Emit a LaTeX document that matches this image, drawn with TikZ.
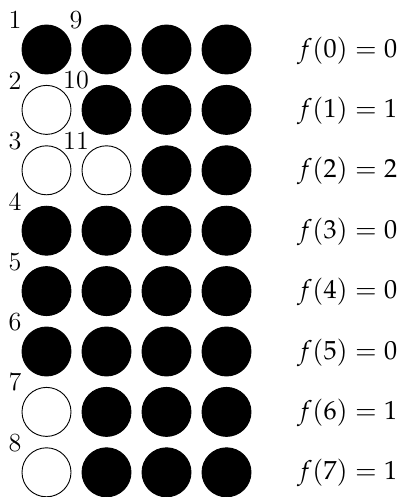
\documentclass[tikz,border=0pt]{standalone}
\usepackage{mathpazo}
\begin{document}
\begin{tikzpicture}[x=0.44pt,y=-0.44pt,
  dot/.style={circle,draw=black,line width=0.4pt,minimum size=49*0.44pt,inner sep=0pt},
  on/.style={dot,fill=black},
  off/.style={dot,fill=white},
  num/.style={inner sep=0pt,anchor=center,font=\fontsize{11.5}{13}\selectfont},
  fval/.style={inner sep=0pt,anchor=west,font=\fontsize{11.5}{13}\selectfont}]
\useasboundingbox (0,0) rectangle (403,497);
\foreach \r/\fv in {0/0,1/1,2/2,3/0,4/0,5/0,6/1,7/1}{
  \pgfmathsetmacro{\yy}{49.5+60.4*\r}
  \foreach \c in {0,1,2,3}{
    \pgfmathsetmacro{\xx}{46.5+60*\c}
    \ifnum\c<\fv
      \node[off] (c\r\c) at (\xx,\yy) {};
    \else
      \node[on] (c\r\c) at (\xx,\yy) {};
    \fi
  }
  \pgfmathtruncatemacro{\lab}{\r+1}
  \node[num] (l\r) at (15,\yy-29.5) {\lab};
  \node[fval] (f\r) at (297,\yy+1) {$f(\r)=\fv$};
}
\node[num] (l8) at (76,20) {9};
\node[num] (l9) at (76,80.4) {10};
\node[num] (l10) at (76,140.8) {11};
\end{tikzpicture}
\end{document}
